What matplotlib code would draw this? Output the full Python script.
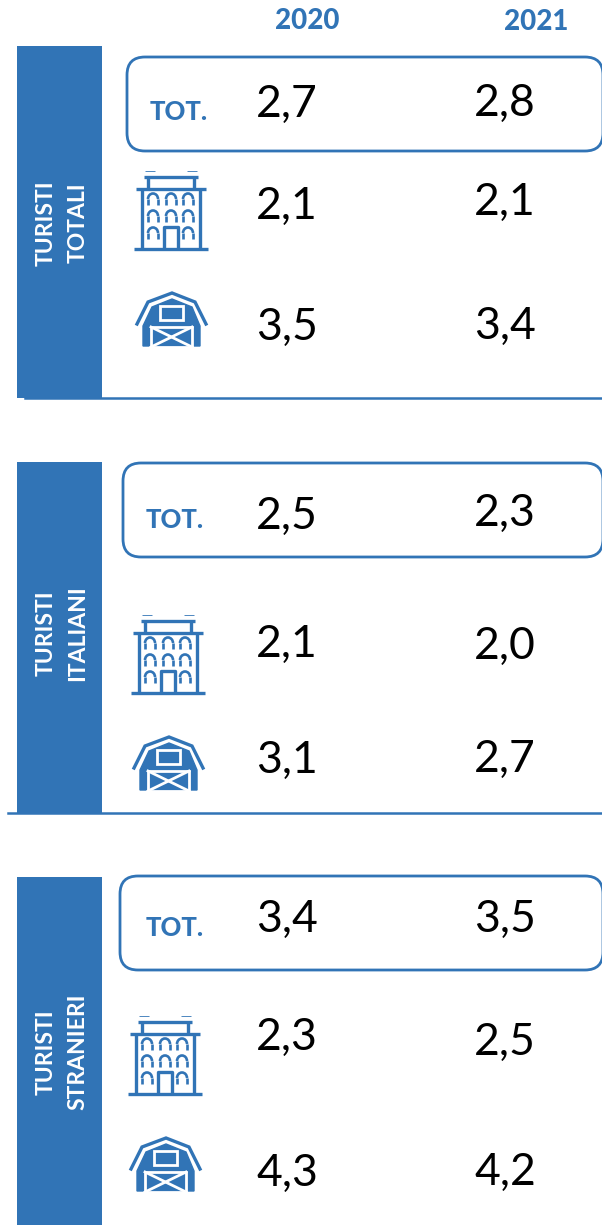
import matplotlib
matplotlib.use("Agg")
import matplotlib.pyplot as plt
from matplotlib.patches import Rectangle, FancyBboxPatch, Polygon, Arc

BLUE = "#3174B6"
WIDTH = 602
HEIGHT = 1225

years = ["2020", "2021"]
groups = [["TURISTI", "TOTALI"], ["TURISTI", "ITALIANI"], ["TURISTI", "STRANIERI"]]
values_2020 = [[2.7, 2.1, 3.5], [2.5, 2.1, 3.1], [3.4, 2.3, 4.3]]
values_2021 = [[2.8, 2.1, 3.4], [2.3, 2.0, 2.7], [3.5, 2.5, 4.2]]

# layout, in pixels of the picture
y_2020 = [[104, 206, 327], [516, 644, 760], [919, 1037, 1173]]
y_2021 = [[103, 202, 326], [513, 646, 759], [919, 1042, 1172]]
panels = [(46, 398), (462, 813), (877, 1225)]
boxes = [(127, 57, 151), (123, 463, 557), (120, 876, 970)]
tot_pos = [(179, 112), (175, 520), (175, 928)]
label_y = [223, 633, 1052]
hotel_pos = [(171, 170), (168, 614), (165, 1015)]
barn_pos = [(171, 291), (168, 735), (165, 1136)]
rules = [(25, 398), (8, 813)]


def line(ax, x, y, lw=1.6):
    ax.plot(x, y, color=BLUE, lw=lw, solid_capstyle="butt", clip_on=True)


def draw_hotel(ax, cx, top):
    lw = 2.4
    line(ax, [cx - 37, cx + 37], [top + 79, top + 79], lw)
    line(ax, [cx - 29, cx - 29], [top + 19, top + 79], lw)
    line(ax, [cx + 29, cx + 29], [top + 19, top + 79], lw)
    line(ax, [cx - 35, cx + 35], [top + 19, top + 19], lw)
    line(ax, [cx - 23, cx - 23], [top + 7, top + 19], lw)
    line(ax, [cx + 23, cx + 23], [top + 7, top + 19], lw)
    line(ax, [cx - 27, cx + 27], [top + 7, top + 7], lw)
    line(ax, [cx - 26, cx - 16], [top + 1, top + 1], 0.6)
    line(ax, [cx + 16, cx + 26], [top + 1, top + 1], 0.6)
    for row, wy in enumerate([top + 35, top + 52, top + 69]):
        for col, wx in enumerate([cx - 18, cx, cx + 17]):
            if row == 2 and col == 1:
                continue
            ax.add_patch(Arc((wx, wy - 6), 10, 11, theta1=180, theta2=360, color=BLUE, lw=1.9))
            line(ax, [wx - 5, wx - 5], [wy - 6, wy], 1.9)
            line(ax, [wx + 5, wx + 5], [wy - 6, wy], 1.9)
    line(ax, [cx - 7, cx - 7, cx + 7, cx + 7], [top + 78, top + 57, top + 57, top + 78], lw)


def draw_barn(ax, cx, top):
    ax.plot([cx - 34, cx - 23, cx + 1, cx + 24, cx + 35],
            [top + 33, top + 11, top + 2, top + 11, top + 33],
            color=BLUE, lw=2.4, solid_joinstyle="miter")
    ax.add_patch(Polygon([(cx - 28, top + 55), (cx - 28, top + 35), (cx - 19, top + 16), (cx + 1, top + 8),
                          (cx + 21, top + 16), (cx + 29, top + 35), (cx + 29, top + 55)],
                         closed=True, fc=BLUE, ec=BLUE, lw=1))
    ax.add_patch(Rectangle((cx - 11, top + 15), 23, 14, fc=BLUE, ec="white", lw=2))
    ax.add_patch(Rectangle((cx - 20, top + 36), 41, 20, fc=BLUE, ec="white", lw=2))
    ax.plot([cx - 20, cx + 21], [top + 36, top + 56], color="white", lw=2)
    ax.plot([cx - 20, cx + 21], [top + 56, top + 36], color="white", lw=2)


def main():
    plt.rcParams["font.family"] = ["Lato", "DejaVu Sans"]
    fig = plt.figure(figsize=(WIDTH / 100, HEIGHT / 100), dpi=100)
    ax = fig.add_axes([0, 0, 1, 1])
    ax.set_xlim(0, WIDTH)
    ax.set_ylim(HEIGHT, 0)
    ax.axis("off")

    ax.text(307, 21, years[0], color=BLUE, fontsize=20, fontweight="black", ha="center", va="center")
    ax.text(536, 22, years[1], color=BLUE, fontsize=20, fontweight="black", ha="center", va="center")

    for i in range(3):
        top, bottom = panels[i]
        ax.add_patch(Rectangle((17, top), 85, bottom - top, fc=BLUE, ec="none"))
        ax.text(46, label_y[i], groups[i][0], color="white", fontsize=16.5, fontweight="bold",
                rotation=90, ha="center", va="center")
        ax.text(78, label_y[i], groups[i][1], color="white", fontsize=16.5, fontweight="bold",
                rotation=90, ha="center", va="center")

        bx, by0, by1 = boxes[i]
        ax.add_patch(FancyBboxPatch((bx + 18, by0 + 18), WIDTH + 1 - bx - 36, by1 - by0 - 36,
                                    boxstyle="round,pad=18", fc="none", ec=BLUE, lw=2))
        ax.text(tot_pos[i][0], tot_pos[i][1], "TOT.", color=BLUE, fontsize=18.5, fontweight="black",
                ha="center", va="center")
        draw_hotel(ax, *hotel_pos[i])
        draw_barn(ax, *barn_pos[i])

        for j in range(3):
            ax.text(287, y_2020[i][j], f"{values_2020[i][j]:.1f}".replace(".", ","), color="black",
                    fontsize=32, ha="center", va="center")
            ax.text(505, y_2021[i][j], f"{values_2021[i][j]:.1f}".replace(".", ","), color="black",
                    fontsize=32, ha="center", va="center")

    for x0, y in rules:
        ax.plot([x0, WIDTH], [y, y], color=BLUE, lw=1.8)

    fig.savefig("out.png", dpi=100)


if __name__ == "__main__":
    main()
